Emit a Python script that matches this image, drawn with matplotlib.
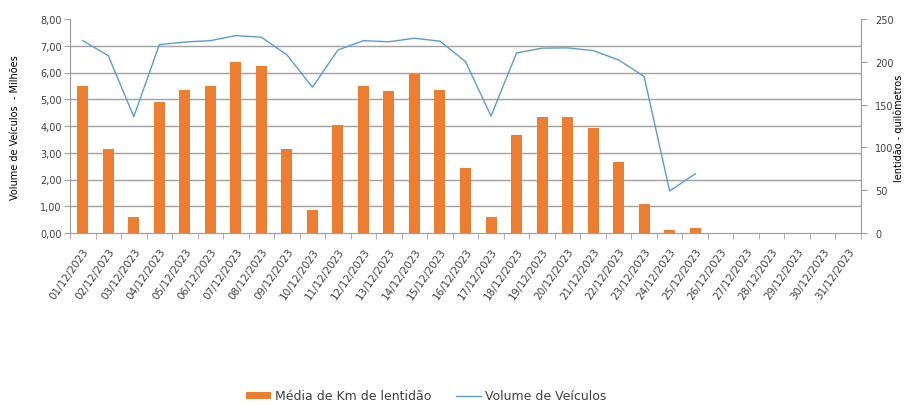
import numpy as np
import matplotlib
matplotlib.use('Agg')
import matplotlib.pyplot as plt
from matplotlib.ticker import FixedLocator, FuncFormatter

# dates on the x axis
datas = ['%02d/12/2023' % d for d in range(1, 32)]

# Média de Km de lentidão (km) - right axis
lentidao_km = [171.5, 98.4, 18.7, 153.6, 167.6, 171.5, 199.8, 195.6, 98.4, 27.2,
               126.7, 171.5, 166.0, 185.8, 167.6, 76.2, 18.7, 114.3, 135.3, 135.3,
               122.5, 83.2, 34.2, 3.1, 5.8]

# Volume de Veículos (milhões) - left axis
volume_mi = [7.19, 6.63, 4.35, 7.04, 7.14, 7.19, 7.38, 7.32, 6.66, 5.45,
             6.84, 7.19, 7.15, 7.28, 7.17, 6.41, 4.37, 6.73, 6.91, 6.92,
             6.82, 6.47, 5.85, 1.57, 2.21]

orange = '#ED7D31'
blue = '#5B9BD5'
grid_c = '#a0a0a0'
txt = '#404040'

plt.rcParams['font.family'] = ['DejaVu Sans']

fig = plt.figure(figsize=(9.06, 4.06), dpi=100)
ax = fig.add_axes([70/906, 1-234/406, (861-70)/906, (234-20)/406])
ax2 = ax.twinx()

# bars behind, line in front
ax2.set_zorder(1)
ax.set_zorder(2)
ax.patch.set_visible(False)

n = len(datas)
ax2.bar(np.arange(len(lentidao_km)), lentidao_km, width=0.43, color=orange,
        label='Média de Km de lentidão', zorder=2)
ax.plot(np.arange(len(volume_mi)), volume_mi, color=blue, lw=1.0,
        label='Volume de Veículos')

ax.set_xlim(-0.5, n - 0.5)
ax.set_ylim(0, 8)
ax2.set_ylim(0, 250)

# left axis ticks
ax.set_yticks(np.arange(0, 9, 1))
ax.yaxis.set_major_formatter(FuncFormatter(lambda v, p: ('%.2f' % v).replace('.', ',')))
ax.tick_params(axis='y', direction='out', length=4, color=grid_c, labelsize=7,
               labelcolor=txt, pad=2)

# right axis ticks
ax2.set_yticks(np.arange(0, 251, 50))
ax2.tick_params(axis='y', direction='out', length=4, color=grid_c, labelsize=7,
                labelcolor=txt, pad=6)
# gridlines follow the left scale but sit behind the bars
ax2.yaxis.set_minor_locator(FixedLocator(np.linspace(0, 250, 9)))
ax2.tick_params(axis='y', which='minor', length=0)
ax2.grid(which='minor', axis='y', color=grid_c, lw=1, zorder=0)
ax2.set_axisbelow(True)

# x axis: labels at centers, tick marks at boundaries
ax.set_xticks(np.arange(n))
ax.set_xticklabels(datas, rotation=55, ha='right', va='top', rotation_mode='anchor',
                   fontsize=7.5, color=txt)
ax.tick_params(axis='x', which='major', length=0, pad=9)
ax.xaxis.set_minor_locator(FixedLocator(np.arange(-0.5, n, 1)))
ax.tick_params(axis='x', which='minor', length=4, color=grid_c, direction='out')
ax2.tick_params(axis='x', length=0)

for a in (ax, ax2):
    for s in a.spines.values():
        s.set_color(grid_c)
    a.spines['top'].set_visible(False)

fig.text(15/906, 1-128/406, 'Volume de Veículos  - Milhões', rotation=90,
         ha='center', va='center', fontsize=7, color='black')
fig.text(899/906, 1-128/406, 'lentidão - quilômetros', rotation=90,
         ha='center', va='center', fontsize=7, color='black')

h1, l1 = ax2.get_legend_handles_labels()
h2, l2 = ax.get_legend_handles_labels()
fig.legend(h1 + h2, l1 + l2, loc='center', bbox_to_anchor=(426/906, 1-397/406),
           ncol=2, frameon=False, fontsize=9, handlelength=2.0, handleheight=0.5,
           columnspacing=2.0, handletextpad=0.3, labelcolor=txt)

fig.savefig('out.png', dpi=100)
